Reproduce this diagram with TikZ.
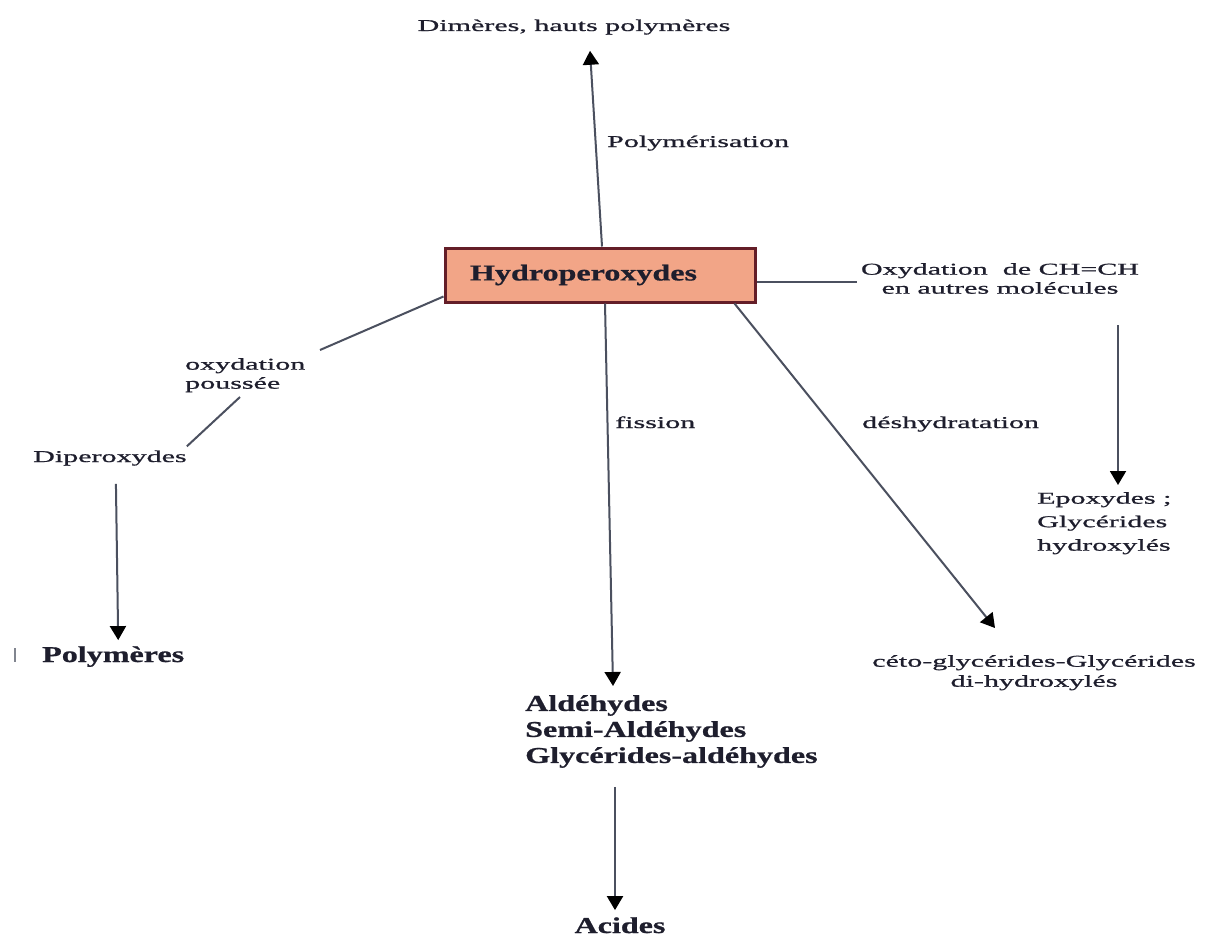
\documentclass[tikz,border=0pt]{standalone}
\usepackage{fontspec}
\setmainfont{Liberation Serif}
\newfontfamily\nrmfont[FakeStretch=1.82,FakeBold=1]{Liberation Serif}
\newfontfamily\bldfont[FakeStretch=1.42,FakeBold=0.8]{Liberation Serif}
\usetikzlibrary{arrows.meta}
\definecolor{lnc}{RGB}{75,80,95}
\definecolor{txc}{RGB}{30,30,45}
\definecolor{boxfill}{RGB}{242,165,135}
\definecolor{boxdraw}{RGB}{100,30,40}
\begin{document}
\begin{tikzpicture}[x=1pt,y=-1pt,
  txt/.style={inner sep=0pt, text=txc, font=\nrmfont\fontsize{16.5}{16.5}\selectfont},
  btxt/.style={inner sep=0pt, text=txc, font=\bldfont\bfseries\fontsize{22.6}{26}\selectfont},
  ln/.style={draw=lnc, line width=2pt},
  arr/.style={ln, -{Triangle[length=14pt,width=16pt,color=black]}},
  hbox/.style={draw=boxdraw, line width=3pt, fill=boxfill, minimum height=54pt,
    inner xsep=25pt, text width=260pt, align=left, text=txc,
    font=\bldfont\bfseries\fontsize{22.6}{26}\selectfont}
]
\fill[white] (0,0) rectangle (1209,939);
\useasboundingbox (0,0) rectangle (1209,939);

% nodes
\node[txt, anchor=base] (dim) at (574,31) {Dimères, hauts polymères};
\node[hbox] (box) at (600,275) {Hydroperoxydes};
\node[txt, anchor=base west] (lpol) at (607,147) {Polymérisation};
\node[txt, align=center, anchor=north, font=\nrmfont\fontsize{16.5}{19}\selectfont] (oxy) at (1000,263) {Oxydation\ \ de CH=CH\\en autres molécules};
\node[txt, align=left, anchor=north west, font=\nrmfont\fontsize{16.5}{23.5}\selectfont] (epo) at (1037,492) {Epoxydes ;\\Glycérides\\hydroxylés};
\node[txt, anchor=base west] (ldes) at (862,428) {déshydratation};
\node[txt, anchor=base west] (lfis) at (615,428) {fission};
\node[txt, align=center, anchor=north, font=\nrmfont\fontsize{16.5}{20}\selectfont] (ceto) at (1034,655) {céto-glycérides-Glycérides\\di-hydroxylés};
\node[txt, align=left, anchor=north west, font=\nrmfont\fontsize{16.5}{19}\selectfont] (lox) at (185,358) {oxydation\\poussée};
\node[txt, anchor=base west] (dip) at (33,462) {Diperoxydes};
\node[btxt, anchor=base west] (pol) at (42,662) {Polymères};
\node[btxt, align=left, anchor=north west] (ald) at (525,695) {Aldéhydes\\Semi-Aldéhydes\\Glycérides-aldéhydes};
\node[btxt, anchor=base] (acid) at (620,933) {Acides};

% free ends
\coordinate (oxyL) at (857,282);
\coordinate (epoT) at (1118,325);
\path (epoT |- epo.north) coordinate (epoB);
\coordinate (cetoT) at (995,628);
\coordinate (lxa) at (320,350);
\coordinate (lxb) at (240,397);

% connectors
\draw[arr] ([xshift=2pt]box.north) -- ([xshift=16pt,yshift=-16pt]dim.south);
\draw[ln] ([yshift=-7pt]box.east) -- (oxyL);
\draw[arr] (epoT) -- ([yshift=7pt]epoB);
\draw[arr] ([xshift=-22pt]box.south east) -- (cetoT);
\draw[arr] ([xshift=5pt]box.south) -- ([xshift=88pt,yshift=9pt]ald.north west);
\draw[arr] ([xshift=90pt,yshift=-19pt]ald.south west) -- ([xshift=-5pt,yshift=7pt]acid.north);
\draw[ln] ([yshift=7pt]box.south west) -- (lxa);
\draw[ln] (lxb) -- ([yshift=4pt]dip.north east);
\draw[arr] ([xshift=6pt,yshift=-18pt]dip.south) -- ([xshift=5pt,yshift=6pt]pol.north);
\draw[lnc!70, line width=1.5pt] (15,648) -- (15,662);
\end{tikzpicture}
\end{document}
